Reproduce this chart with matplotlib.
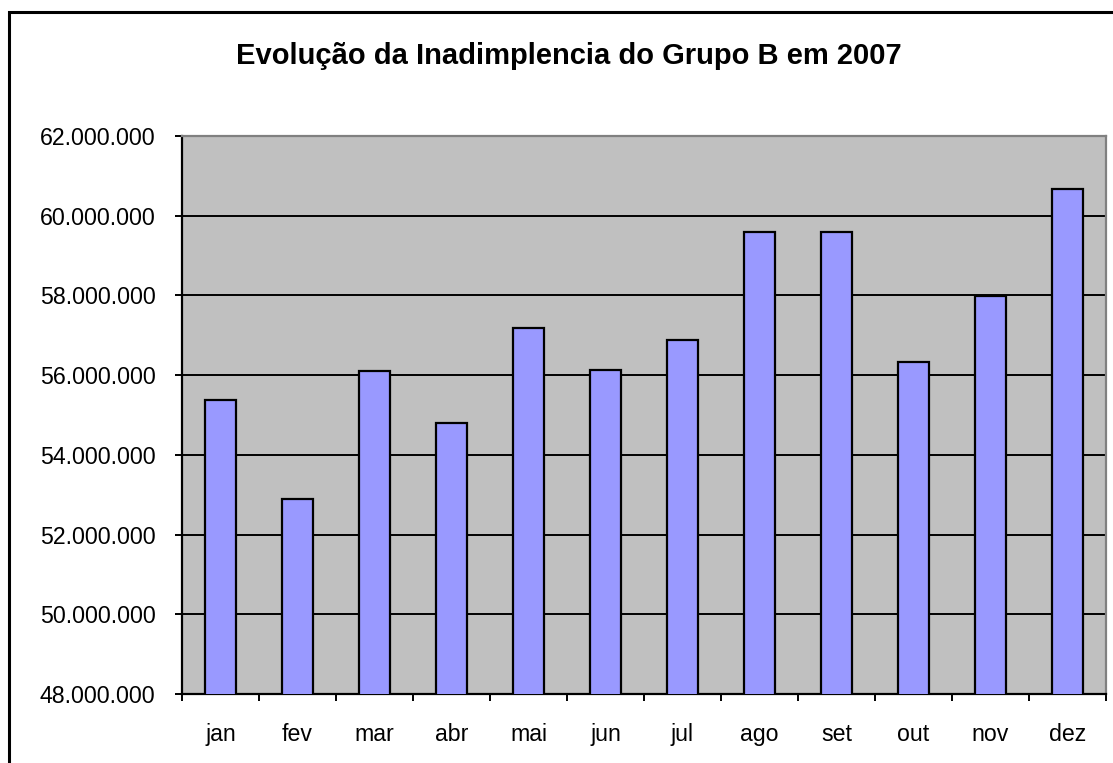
import matplotlib
matplotlib.use("Agg")
import matplotlib.pyplot as plt
from matplotlib.patches import Rectangle
from matplotlib.ticker import FuncFormatter, MultipleLocator
import numpy as np

plt.rcParams["font.family"] = ["Liberation Sans", "DejaVu Sans"]

meses = ["jan", "fev", "mar", "abr", "mai", "jun", "jul", "ago", "set", "out", "nov", "dez"]
valores = [55.37e6, 52.89e6, 56.10e6, 54.80e6, 57.19e6, 56.12e6,
           56.89e6, 59.58e6, 59.58e6, 56.34e6, 57.98e6, 60.68e6]
titulo = "Evolução da Inadimplencia do Grupo B em 2007"

W, H = 1113, 763
fig = plt.figure(figsize=(W / 100, H / 100), dpi=100)
fig.patch.set_facecolor("white")

# outer chart frame (cut off on right / bottom like the reference)
fig.add_artist(Rectangle((8.5 / W, -0.05), 1.2, 1.05 - 11.5 / H,
                         transform=fig.transFigure, fill=False,
                         edgecolor="black", linewidth=2.2))

ax = fig.add_axes([182 / W, 1 - 694 / H, (1106 - 182) / W, (694 - 136) / H])
ax.set_facecolor("#C0C0C0")

x = np.arange(len(meses))
ax.bar(x, valores, width=0.40, color="#9999FF", edgecolor="black", linewidth=1.6, zorder=3)

ax.set_xlim(-0.5, len(meses) - 0.5)
ax.set_ylim(48e6, 62e6)
ax.yaxis.set_major_locator(MultipleLocator(2e6))
ax.yaxis.set_major_formatter(FuncFormatter(lambda v, p: f"{v:,.0f}".replace(",", ".")))
ax.grid(axis="y", color="black", linewidth=1.4, zorder=1)
ax.set_axisbelow(True)

ax.set_xticks(x)
ax.set_xticklabels(meses)
ax.set_xticks(np.arange(-0.5, len(meses)), minor=True)
ax.tick_params(axis="x", which="major", length=0, pad=21, labelsize=16.7)
ax.tick_params(axis="x", which="minor", length=5, width=1.4, direction="out", color="black")
ax.tick_params(axis="y", length=5, width=1.4, direction="out", labelsize=16.7, pad=14)

for s in ["left", "bottom"]:
    ax.spines[s].set_color("black")
    ax.spines[s].set_linewidth(1.6)
for s in ["top", "right"]:
    ax.spines[s].set_color("#808080")
    ax.spines[s].set_linewidth(1.6)

fig.text(569 / W, 1 - 56 / H, titulo, ha="center", va="center",
         fontsize=21, fontweight="bold")

fig.savefig("out.png", dpi=100)
